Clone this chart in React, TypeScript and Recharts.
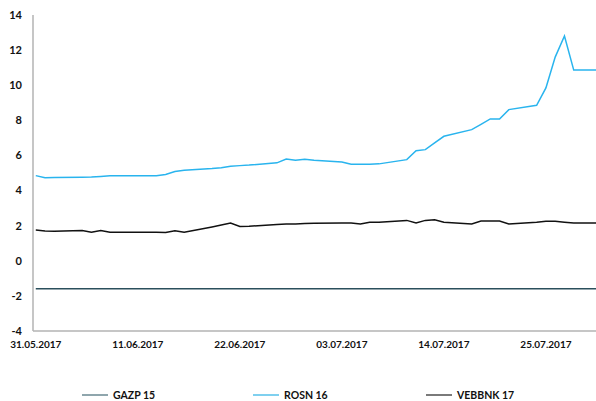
import React from "react";
import { LineChart, Line, XAxis, YAxis, Legend } from "recharts";

const dates = [
  "31.05.2017", "01.06.2017", "02.06.2017", "05.06.2017", "06.06.2017", "07.06.2017", "08.06.2017", "09.06.2017",
  "13.06.2017", "14.06.2017", "15.06.2017", "16.06.2017", "19.06.2017", "20.06.2017", "21.06.2017", "22.06.2017",
  "23.06.2017", "26.06.2017", "27.06.2017", "28.06.2017", "29.06.2017", "30.06.2017", "03.07.2017", "04.07.2017",
  "05.07.2017", "06.07.2017", "07.07.2017", "10.07.2017", "11.07.2017", "12.07.2017", "13.07.2017", "14.07.2017",
  "17.07.2017", "18.07.2017", "19.07.2017", "20.07.2017", "21.07.2017", "24.07.2017", "25.07.2017", "26.07.2017",
  "27.07.2017", "28.07.2017", "31.07.2017",
];

const gazp15 = [
  -1.6, -1.6, -1.6, -1.6, -1.6, -1.6, -1.6, -1.6, -1.6, -1.6, -1.6, -1.6, -1.6, -1.6, -1.6, -1.6,
  -1.6, -1.6, -1.6, -1.6, -1.6, -1.6, -1.6, -1.6, -1.6, -1.6, -1.6, -1.6, -1.6, -1.6, -1.6, -1.6,
  -1.6, -1.6, -1.6, -1.6, -1.6, -1.6, -1.6, -1.6, -1.6, -1.6, -1.6,
];

const rosn16 = [
  4.85, 4.73, 4.75, 4.76, 4.77, 4.8, 4.84, 4.84, 4.85, 4.92, 5.08, 5.15, 5.25, 5.3, 5.38, 5.42,
  5.45, 5.58, 5.8, 5.72, 5.78, 5.73, 5.62, 5.5, 5.5, 5.5, 5.52, 5.76, 6.27, 6.33, 6.71, 7.09,
  7.47, 7.77, 8.08, 8.08, 8.61, 8.86, 9.85, 11.6, 12.8, 10.86, 10.86,
];

const vebbnk17 = [
  1.75, 1.7, 1.68, 1.72, 1.63, 1.72, 1.63, 1.63, 1.63, 1.61, 1.71, 1.62, 1.93, 2.04, 2.15, 1.95,
  1.97, 2.07, 2.09, 2.1, 2.12, 2.14, 2.15, 2.15, 2.1, 2.2, 2.2, 2.3, 2.15, 2.3, 2.33, 2.2,
  2.1, 2.26, 2.26, 2.26, 2.1, 2.2, 2.25, 2.25, 2.2, 2.15, 2.15,
];

const xTickLabels = ["31.05.2017", "11.06.2017", "22.06.2017", "03.07.2017", "14.07.2017", "25.07.2017"];
const yTicks = [-4, -2, 0, 2, 4, 6, 8, 10, 12, 14];

const seriesNames = ["GAZP 15", "ROSN 16", "VEBBNK 17"];
const lineColors = ["#2b4f5c", "#29b4ee", "#111111"];
const legendColors = ["#8fa6ad", "#7fd0ef", "#7a7a7a"];

const toDay = (s: string) => {
  const [d, m, y] = s.split(".").map(Number);
  return Date.UTC(y, m - 1, d) / 86400000;
};
const origin = toDay(dates[0]);

const data = dates.map((dt, i) => ({
  day: toDay(dt) - origin,
  gazp: gazp15[i],
  rosn: rosn16[i],
  veb: vebbnk17[i],
}));

const xTicks = xTickLabels.map((s) => toDay(s) - origin);
const labelFor = (v: number) => {
  const idx = xTicks.indexOf(v);
  return idx >= 0 ? xTickLabels[idx] : "";
};

const font = "Lato, 'Open Sans', sans-serif";

const LegendContent = () => {
  const positions = [82, 253, 426];
  return (
    <div style={{ position: "relative", width: 596, height: 12, fontFamily: font }}>
      {seriesNames.map((n, i) => (
        <div
          key={n}
          style={{
            position: "absolute",
            left: positions[i],
            top: 0,
            height: 12,
            display: "flex",
            alignItems: "center",
            whiteSpace: "nowrap",
          }}
        >
          <span style={{ display: "inline-block", width: 26, height: 2, background: legendColors[i], marginRight: 5 }} />
          <span style={{ fontSize: 10.5, fontWeight: 700, color: "#111", lineHeight: "12px" }}>{n}</span>
        </div>
      ))}
    </div>
  );
};

export default function App() {
  return (
    <div style={{ position: "absolute", left: 0, top: 0, width: 596, height: 401, background: "#fff" }}>
      <style>{"body{margin:0}"}</style>
      <LineChart width={596} height={401} data={data} margin={{ top: 15, right: 0, bottom: 0, left: 0 }}>
        <XAxis
          type="number"
          dataKey="day"
          domain={[-0.3, 60.4]}
          allowDataOverflow
          ticks={xTicks}
          tickFormatter={labelFor}
          interval={0}
          tickLine={false}
          tickSize={0}
          tickMargin={10}
          height={58}
          axisLine={{ stroke: "#b3b3b3", strokeWidth: 1.5 }}
          tick={{ fill: "#111", fontSize: 10, fontWeight: 700, fontFamily: font }}
        />
        <YAxis
          type="number"
          domain={[-4, 14]}
          ticks={yTicks}
          interval={0}
          width={33}
          tickLine={false}
          tickSize={0}
          tickMargin={11}
          axisLine={{ stroke: "#b3b3b3", strokeWidth: 1.5 }}
          tick={{ fill: "#111", fontSize: 11, fontWeight: 700, fontFamily: font }}
        />
        <Legend verticalAlign="bottom" align="left" content={<LegendContent />} wrapperStyle={{ left: 0, width: 596 }} />
        <Line type="linear" dataKey="gazp" name={seriesNames[0]} stroke={lineColors[0]} strokeWidth={1.5} dot={false} isAnimationActive={false} />
        <Line type="linear" dataKey="rosn" name={seriesNames[1]} stroke={lineColors[1]} strokeWidth={1.5} dot={false} isAnimationActive={false} />
        <Line type="linear" dataKey="veb" name={seriesNames[2]} stroke={lineColors[2]} strokeWidth={1.5} dot={false} isAnimationActive={false} />
      </LineChart>
    </div>
  );
}
